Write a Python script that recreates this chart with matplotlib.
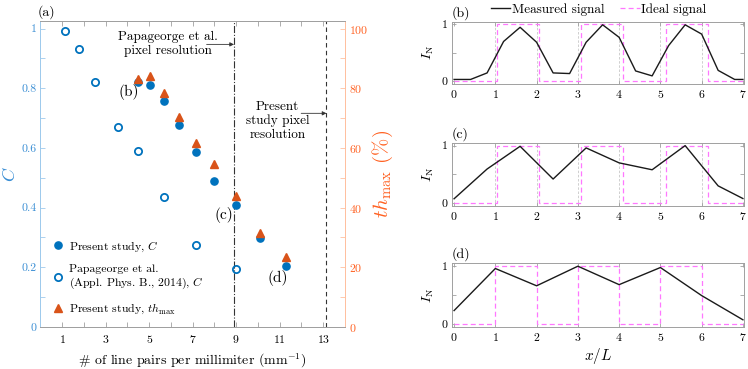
import numpy as np
import matplotlib.pyplot as plt
from matplotlib.lines import Line2D

plt.rcParams['font.family'] = ['cmr10', 'DejaVu Serif']
plt.rcParams['mathtext.fontset'] = 'cm'
plt.rcParams['axes.formatter.use_mathtext'] = True
plt.rcParams['axes.unicode_minus'] = False

# ---- data, panel (a)
present_lp = [4.49, 5.04, 5.66, 6.35, 7.13, 8.00, 8.98, 10.08, 11.31]
present_C = [0.82, 0.81, 0.758, 0.678, 0.588, 0.49, 0.41, 0.298, 0.205]
present_th = [83.0, 84.0, 78.5, 70.5, 61.5, 54.5, 44.0, 31.5, 23.5]
papa_lp = [1.12, 1.78, 2.52, 3.56, 4.49, 5.66, 7.13, 8.98]
papa_C = [0.993, 0.93, 0.82, 0.67, 0.59, 0.435, 0.275, 0.195]
papa_res = 8.9
present_res = 13.15

# ---- data, panels (b)-(d)
xb = [0, 0.4, 0.8, 1.2, 1.6, 2.0, 2.4, 2.8, 3.2, 3.6, 4.0, 4.4, 4.8, 5.2, 5.6, 6.0, 6.4, 6.8, 7.0]
yb = [0.03, 0.03, 0.145, 0.70, 0.95, 0.686, 0.145, 0.134, 0.686, 0.994, 0.773, 0.18, 0.093,
      0.628, 0.994, 0.83, 0.19, 0.03, 0.03]
xc = [0, 0.8, 1.6, 2.4, 3.2, 4.0, 4.8, 5.6, 6.4, 7.0]
yc = [0.076, 0.593, 0.988, 0.419, 0.96, 0.70, 0.58, 1.0, 0.30, 0.08]
xd = [0, 1, 2, 3, 4, 5, 6, 7]
yd = [0.23, 0.96, 0.66, 1.0, 0.68, 0.977, 0.49, 0.07]
ideal_levels = [0, 1, 0, 1, 0, 1, 0]
ideal_edges_bc = [0, 1.03, 2.06, 3.07, 4.10, 5.13, 6.15, 7.0]
ideal_edges_d = [0, 1, 2, 3, 4, 5, 6, 7]

blue = '#0072BD'
orange = '#D95319'
left_col = '#3a8ed4'
left_spine = '#9fcaec'
right_col = '#ff6020'
right_spine = '#ffc0a0'
gray = '#a0a0a0'
magenta = '#ff77ff'

fig = plt.figure(figsize=(7.48, 3.69), dpi=100)

# ---------------- panel (a)
ax = fig.add_axes([0.0541, 0.1138, 0.407, 0.829])
ax2 = ax.twinx()

ax.plot(present_lp, present_C, 'o', color=blue, ms=5.2, zorder=3)
ax.plot(papa_lp, papa_C, 'o', mfc='none', mec=blue, mew=1.3, ms=5.2, zorder=3)
ax2.plot(present_lp, present_th, '^', color=orange, ms=6, zorder=3)

ax.axvline(papa_res, color='#333333', lw=0.8, ls='-.')
ax.axvline(present_res, color='#333333', lw=0.8, ls=(0, (4, 3)))

ax.set_xlim(0, 14)
ax.set_ylim(0, 1.025)
ax2.set_ylim(0, 102.5)
ax.set_xticks([1, 3, 5, 7, 9, 11, 13])
ax.set_xticks(np.arange(2, 13, 2), minor=True)
ax.set_yticks([0, 0.2, 0.4, 0.6, 0.8, 1.0], ['0', '0.2', '0.4', '0.6', '0.8', '1'])
ax.set_yticks(np.arange(0.1, 1.0, 0.2), minor=True)
ax2.set_yticks([0, 20, 40, 60, 80, 100])
ax2.set_yticks(np.arange(10, 100, 20), minor=True)

ax.tick_params(axis='x', which='both', direction='in', top=True, length=3.5, width=0.6,
               color=gray, labelsize=8.5, pad=4)
ax.tick_params(axis='y', which='both', direction='in', length=3.5, width=0.6,
               color=left_spine, labelcolor=left_col, labelsize=8.5, pad=3)
ax2.tick_params(axis='y', which='both', direction='in', length=3.5, width=0.6,
                color=right_spine, labelcolor=right_col, labelsize=8.5, pad=3)

for a in (ax, ax2):
    a.spines['top'].set_color(gray)
    a.spines['bottom'].set_color(gray)
    a.spines['left'].set_color(left_spine)
    a.spines['right'].set_color(right_spine)
    for s in a.spines.values():
        s.set_linewidth(0.7)

ax.set_xlabel(r'# of line pairs per millimiter (mm$^{-1}$)', fontsize=10, labelpad=5)
ax.set_ylabel(r'$C$', color=left_col, fontsize=13, labelpad=2)
ax2.set_ylabel(r'$th_{\rm max}$ (%)', color=right_col, fontsize=15, labelpad=2)
ax.text(-0.008, 1.029, '(a)', fontsize=10, transform=ax.transAxes, va='center', ha='left')

ax.text(5.85, 0.95, 'Papageorge et al.\npixel resolution', ha='center', va='center',
        fontsize=9.5, linespacing=1.2)
ax.annotate('', xy=(papa_res, 0.947), xytext=(7.64, 0.947),
            arrowprops=dict(arrowstyle='-|>', color='#333333', lw=0.6,
                            mutation_scale=6, shrinkA=0, shrinkB=0))
ax.text(10.89, 0.69, 'Present\nstudy pixel\nresolution', ha='center', va='center',
        fontsize=9.5, linespacing=1.2)
ax.annotate('', xy=(present_res, 0.716), xytext=(11.99, 0.716),
            arrowprops=dict(arrowstyle='-|>', color='#333333', lw=0.6,
                            mutation_scale=6, shrinkA=0, shrinkB=0))

ax.text(4.06, 0.787, '(b)', fontsize=11, ha='center', va='center')
ax.text(8.42, 0.375, '(c)', fontsize=11, ha='center', va='center')
ax.text(10.89, 0.165, '(d)', fontsize=11, ha='center', va='center')

handles = [
    Line2D([], [], ls='none', marker='o', color=blue, ms=5.2),
    Line2D([], [], ls='none', marker='o', mfc='none', mec=blue, mew=1.3, ms=5.2),
    Line2D([], [], ls='none', marker='^', color=orange, ms=6),
]
labels = [r'Present study, $C$',
          'Papageorge et al.\n(Appl. Phys. B., 2014), $C$',
          r'Present study, $th_{\rm max}$']
ax2.legend(handles, labels, loc='lower left', bbox_to_anchor=(0.0, 0.0), frameon=False,
           fontsize=8.5, handletextpad=0.3, handlelength=1.2, labelspacing=0.9,
           borderaxespad=0.5)

# ---------------- panels (b), (c), (d)
panels = [
    ('(b)', [0.6043, 0.7724, 0.390, 0.169], xb, yb, ideal_edges_bc),
    ('(c)', [0.6043, 0.4417, 0.390, 0.1715], xc, yc, ideal_edges_bc),
    ('(d)', [0.6043, 0.1146, 0.390, 0.1718], xd, yd, ideal_edges_d),
]
for name, pos, xs, ys, edges in panels:
    axp = fig.add_axes(pos)
    if edges is ideal_edges_bc:
        for k in range(1, 7):
            axp.axvline(k, color='#c8c8c8', lw=0.6, ls=(0, (3, 2)), zorder=1)
    axp.stairs(ideal_levels, edges, baseline=None, color=magenta, lw=0.9,
               ls=(0, (4, 2.5)), zorder=2)
    axp.plot(xs, ys, color='#1a1a1a', lw=1.0, zorder=3)
    axp.set_xlim(-0.05, 7.02)
    axp.set_ylim(-0.05, 1.05)
    axp.set_xticks(range(8))
    axp.set_yticks([0, 0.5, 1], ['0', '', '1'])
    axp.tick_params(which='both', direction='in', top=True, right=True, length=3, width=0.6,
                    color=gray, labelsize=8.5, pad=3)
    for s in axp.spines.values():
        s.set_color(gray)
        s.set_linewidth(0.7)
    axp.set_ylabel(r'$I_{\rm N}$', fontsize=10, labelpad=4)
    axp.text(0.0, 1.03, name, transform=axp.transAxes, fontsize=10, va='bottom')
    if name == '(d)':
        axp.set_xlabel(r'$x/L$', fontsize=11, labelpad=2)

sig_handles = [Line2D([], [], color='#1a1a1a', lw=1.0),
               Line2D([], [], color=magenta, lw=0.9, ls=(0, (4, 2.5)))]
fig.legend(sig_handles, ['Measured signal', 'Ideal signal'], loc='center',
           bbox_to_anchor=(0.80, 0.975), ncol=2, frameon=False, fontsize=9.5,
           handlelength=1.5, handletextpad=0.1, columnspacing=1.2, borderpad=0)

fig.savefig('out.png', dpi=100)
